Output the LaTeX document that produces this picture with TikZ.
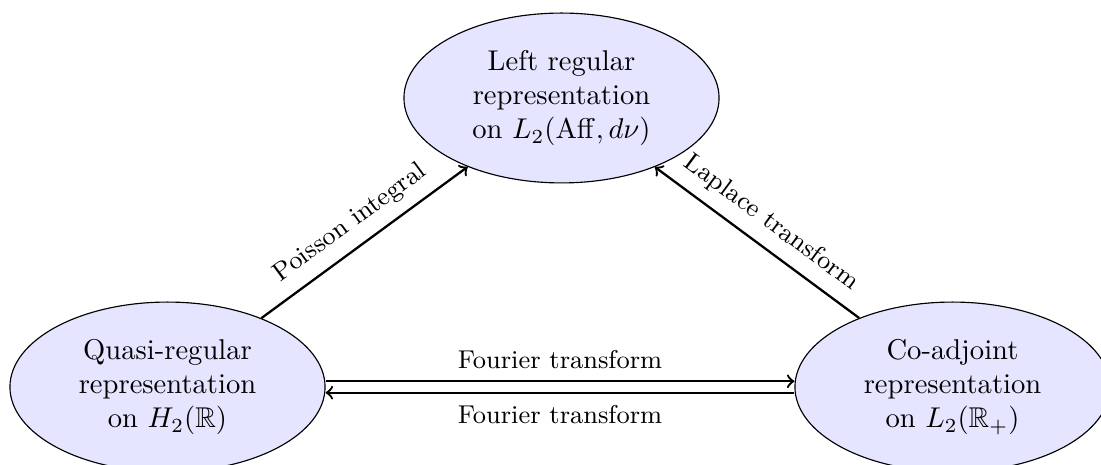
\documentclass[tikz,border=0pt]{standalone}
\usepackage{amsmath,amssymb}
\usetikzlibrary{shapes.geometric}
\begin{document}
\begin{tikzpicture}[x=0.3497pt,y=-0.3497pt,
  rep/.style={ellipse,draw,fill=blue!10,align=center,inner sep=1pt,
    minimum width=110.2pt,minimum height=59.4pt},
  link/.style={->,thick},
  tag/.style={font=\small,inner sep=4pt}]
\useasboundingbox (0,0) rectangle (1101,465);
\node[rep] (top)   at (561.5,98)  {Left regular\\representation\\on $L_2(\mathrm{Aff},d\nu)$};
\node[rep] (left)  at (167.5,387) {Quasi-regular\\representation\\on $H_2(\mathbb{R})$};
\node[rep] (right) at (952.5,387) {Co-adjoint\\representation\\on $L_2(\mathbb{R}_+)$};
\draw[link] (left) -- node[tag,above,sloped] {Poisson integral} (top);
\draw[link] (right) -- node[tag,above,sloped] {Laplace transform} (top);
\draw[link] ([yshift=2pt]left.east) -- node[tag,above] {Fourier transform} ([yshift=2pt]right.west);
\draw[link] ([yshift=-2pt]right.west) -- node[tag,below] {Fourier transform} ([yshift=-2pt]left.east);
\end{tikzpicture}
\end{document}
